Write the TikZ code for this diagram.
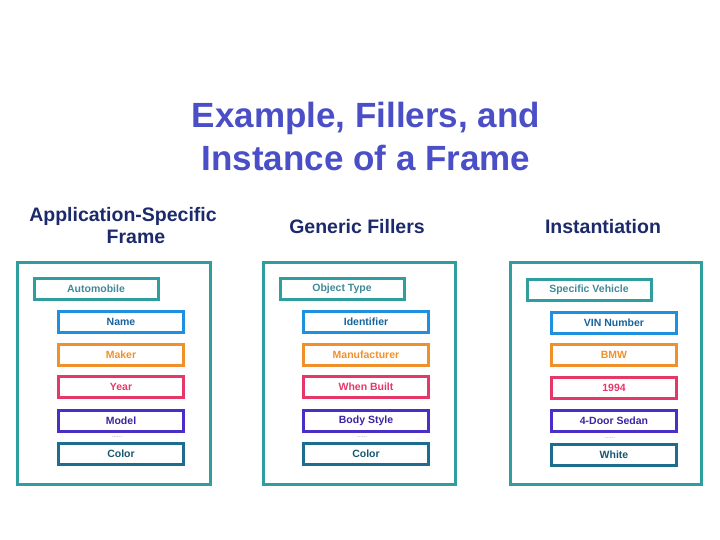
\documentclass[tikz,border=0pt]{standalone}
\usepackage{fontspec}
\setmainfont{Liberation Sans}
\definecolor{titlec}{HTML}{4A4FC8}
\definecolor{subc}{HTML}{1C2A6B}
\definecolor{framec}{HTML}{2E9E9E}
\definecolor{headt}{HTML}{3F8A98}
\definecolor{c1}{HTML}{1F8FE0}
\definecolor{c2}{HTML}{F0902A}
\definecolor{c3}{HTML}{E63868}
\definecolor{c4}{HTML}{4B2DC8}
\definecolor{c5}{HTML}{1D6E8E}
\begin{document}
\begin{tikzpicture}[x=1pt,y=-1pt,
  outer/.style={draw=framec,line width=3pt},
  headbox/.style={draw=framec,line width=3pt,minimum width=124pt,minimum height=21pt,inner sep=0pt,font=\fontsize{10.5}{12}\selectfont\bfseries,text=headt},
  slot/.style={line width=3pt,minimum width=125pt,minimum height=21pt,inner sep=0pt,font=\fontsize{10.5}{12}\selectfont\bfseries},
  s1/.style={slot,draw=c1,text=c1!70!black},
  s2/.style={slot,draw=c2,text=c2},
  s3/.style={slot,draw=c3,text=c3},
  s4/.style={slot,draw=c4,text=c4!80!black},
  s5/.style={slot,draw=c5,text=c5!80!black},
  dotsn/.style={font=\fontsize{6}{6}\selectfont,text=gray,inner sep=0pt},
  subh/.style={font=\fontsize{19.5}{22}\selectfont\bfseries,text=subc,align=center},
  titlen/.style={font=\fontsize{35}{43}\selectfont\bfseries,text=titlec,align=center}
]
\useasboundingbox (0,0) rectangle (720,540);
\node[titlen] (title) at (366,136) {Example, Fillers, and\\Instance of a Frame};
\node[subh] (h1) at (123,226) {Application-Specific\\\hspace*{26pt}Frame};
\node[subh] (h2) at (357,227) {Generic Fillers};
\node[subh] (h3) at (603,227) {Instantiation};
% frame 1
\draw[outer] (17,262) rectangle (210,484);
\node[headbox] (a0) at (96,289) {Automobile};
\node[s1] (a1) at (121,322) {Name};
\node[s2] (a2) at (121,354.5) {Maker};
\node[s3] (a3) at (121,387) {Year};
\node[s4] (a4) at (121,421) {Model};
\node[dotsn] (ad) at (117,437) {......};
\node[s5] (a5) at (121,454) {Color};
% frame 2
\draw[outer] (263,262) rectangle (455,484);
\node[headbox] (b0) at (342,289) {Object Type};
\node[s1] (b1) at (366,322) {Identifier};
\node[s2] (b2) at (366,354.5) {Manufacturer};
\node[s3] (b3) at (366,387) {When Built};
\node[s4] (b4) at (366,421) {Body Style};
\node[dotsn] (bd) at (362,437) {......};
\node[s5] (b5) at (366,454) {Color};
% frame 3
\draw[outer] (510,262) rectangle (701,484);
\node[headbox] (c0) at (589,290) {Specific Vehicle};
\node[s1] (c1n) at (614,323) {VIN Number};
\node[s2] (c2n) at (614,355) {BMW};
\node[s3] (c3n) at (614,388) {1994};
\node[s4] (c4n) at (614,421) {4-Door Sedan};
\node[dotsn] (cd) at (610,438) {......};
\node[s5] (c5n) at (614,455) {White};
\end{tikzpicture}
\end{document}
